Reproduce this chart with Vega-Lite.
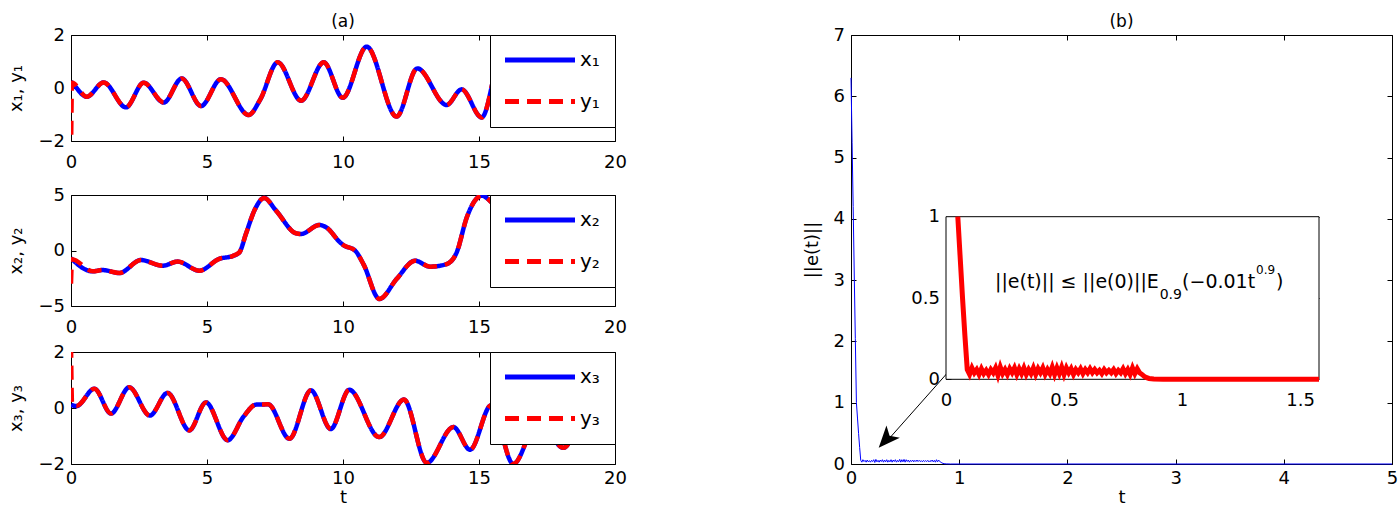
{
  "$schema": "https://vega.github.io/schema/vega-lite/v6.json",
  "background": "white",
  "padding": {"left": 7, "top": 12, "right": 0, "bottom": 0},
  "config": {
    "view": {"stroke": "black", "strokeWidth": 1},
    "axis": {"domain": false, "grid": false, "ticks": true, "tickColor": "black", "tickSize": -5, "tickWidth": 1, "format": "~g",
      "labelFont": "DejaVu Sans", "labelFontSize": 18, "labelColor": "black", "labelFlush": false, "labelOverlap": false,
      "titleFont": "DejaVu Sans", "titleFontSize": 18, "titleFontWeight": "normal", "titleColor": "black"},
    "axisX": {"labelPadding": 17},
    "axisY": {"labelPadding": 11.5, "titlePadding": 12},
    "title": {"font": "DejaVu Sans", "fontSize": 17, "fontWeight": "normal", "color": "black", "anchor": "middle", "offset": -5},
    "legend": {"orient": "top-right", "offset": 0, "fillColor": "white", "strokeColor": "black", "padding": 15,
      "symbolType": "M-1.4286,0H8.571", "symbolSize": 196, "symbolStrokeWidth": 5, "symbolOffset": 0,
      "labelFont": "DejaVu Sans", "labelFontSize": 20, "labelColor": "black", "labelOffset": 55, "rowPadding": 21.5}
  },
  "datasets": {
    "s1": [
      {"t": 0, "x": 0.24, "y": -2.6}, {"t": 0.04, "x": 0.2, "y": 0.2}, {"t": 0.58, "x": -0.33, "y": -0.33},
      {"t": 1.2, "x": 0.21, "y": 0.21}, {"t": 2.02, "x": -0.73, "y": -0.73}, {"t": 2.67, "x": 0.2, "y": 0.2},
      {"t": 3.41, "x": -0.55, "y": -0.55}, {"t": 4.07, "x": 0.36, "y": 0.36}, {"t": 4.78, "x": -0.68, "y": -0.68},
      {"t": 5.51, "x": 0.33, "y": 0.33}, {"t": 6.53, "x": -1.02, "y": -1.02}, {"t": 6.95, "x": -0.45, "y": -0.45},
      {"t": 7.6, "x": 0.97, "y": 0.97}, {"t": 8.46, "x": -0.48, "y": -0.48}, {"t": 9.29, "x": 0.97, "y": 0.97},
      {"t": 9.99, "x": -0.37, "y": -0.37}, {"t": 10.87, "x": 1.56, "y": 1.56}, {"t": 11.97, "x": -1.08, "y": -1.08},
      {"t": 12.73, "x": 0.74, "y": 0.74}, {"t": 13.81, "x": -0.64, "y": -0.64}, {"t": 14.36, "x": -0.05, "y": -0.05},
      {"t": 15.1, "x": -1.11, "y": -1.11}, {"t": 15.85, "x": 1.3, "y": 1.3}, {"t": 16.7, "x": -0.5, "y": -0.5},
      {"t": 17.5, "x": 1.2, "y": 1.2}, {"t": 18.3, "x": -0.9, "y": -0.9}, {"t": 19.2, "x": 0.8, "y": 0.8},
      {"t": 20, "x": 0.0, "y": 0.0}
    ],
    "s2": [
      {"t": 0, "x": -0.68, "y": -3.0}, {"t": 0.04, "x": -0.78, "y": -0.78}, {"t": 0.8, "x": -1.88, "y": -1.88},
      {"t": 1.16, "x": -1.76, "y": -1.76}, {"t": 1.78, "x": -2.03, "y": -2.03}, {"t": 2.57, "x": -0.86, "y": -0.86},
      {"t": 3.37, "x": -1.37, "y": -1.37}, {"t": 3.92, "x": -1.0, "y": -1.0}, {"t": 4.72, "x": -1.82, "y": -1.82},
      {"t": 5.45, "x": -0.75, "y": -0.75}, {"t": 5.94, "x": -0.5, "y": -0.5}, {"t": 6.19, "x": -0.17, "y": -0.17},
      {"t": 6.43, "x": 1.49, "y": 1.49}, {"t": 6.74, "x": 3.59, "y": 3.59}, {"t": 7.1, "x": 4.73, "y": 4.73},
      {"t": 7.54, "x": 3.59, "y": 3.59}, {"t": 8.27, "x": 1.55, "y": 1.55}, {"t": 8.46, "x": 1.49, "y": 1.49},
      {"t": 9.13, "x": 2.3, "y": 2.3}, {"t": 9.38, "x": 2.09, "y": 2.09}, {"t": 9.89, "x": 0.74, "y": 0.74},
      {"t": 10.01, "x": 0.49, "y": 0.49}, {"t": 10.44, "x": 0.0, "y": 0.0}, {"t": 10.75, "x": -1.22, "y": -1.22},
      {"t": 11.34, "x": -4.37, "y": -4.37}, {"t": 11.97, "x": -2.57, "y": -2.57}, {"t": 12.65, "x": -0.92, "y": -0.92},
      {"t": 13.2, "x": -1.46, "y": -1.46}, {"t": 13.81, "x": -1.22, "y": -1.22}, {"t": 14.18, "x": -0.17, "y": -0.17},
      {"t": 14.55, "x": 2.98, "y": 2.98}, {"t": 14.85, "x": 4.49, "y": 4.49}, {"t": 15.1, "x": 4.94, "y": 4.94},
      {"t": 15.47, "x": 4.33, "y": 4.33}, {"t": 16.2, "x": 2.2, "y": 2.2}, {"t": 17.0, "x": 3.3, "y": 3.3},
      {"t": 18.0, "x": 0.3, "y": 0.3}, {"t": 19.0, "x": 2.2, "y": 2.2}, {"t": 20, "x": 1.18, "y": 1.18}
    ],
    "s3": [
      {"t": 0, "x": 0.12, "y": 2.3}, {"t": 0.04, "x": 0.1, "y": 0.1}, {"t": 0.2, "x": 0.07, "y": 0.07},
      {"t": 0.86, "x": 0.69, "y": 0.69}, {"t": 1.47, "x": -0.2, "y": -0.2}, {"t": 2.14, "x": 0.74, "y": 0.74},
      {"t": 2.9, "x": -0.27, "y": -0.27}, {"t": 3.55, "x": 0.54, "y": 0.54}, {"t": 4.35, "x": -0.8, "y": -0.8},
      {"t": 4.96, "x": 0.2, "y": 0.2}, {"t": 5.76, "x": -1.15, "y": -1.15}, {"t": 6.35, "x": -0.3, "y": -0.3},
      {"t": 6.8, "x": 0.12, "y": 0.12}, {"t": 7.25, "x": 0.13, "y": 0.13}, {"t": 8.03, "x": -1.1, "y": -1.1},
      {"t": 8.82, "x": 0.63, "y": 0.63}, {"t": 9.55, "x": -0.75, "y": -0.75}, {"t": 10.23, "x": 0.65, "y": 0.65},
      {"t": 11.33, "x": -1.04, "y": -1.04}, {"t": 12.24, "x": 0.3, "y": 0.3}, {"t": 13.08, "x": -1.96, "y": -1.96},
      {"t": 14.06, "x": -0.68, "y": -0.68}, {"t": 14.67, "x": -1.49, "y": -1.49}, {"t": 15.45, "x": 0.1, "y": 0.1},
      {"t": 16.26, "x": -2.0, "y": -2.0}, {"t": 17.2, "x": -0.4, "y": -0.4}, {"t": 18.1, "x": -1.42, "y": -1.42},
      {"t": 19.1, "x": 0.2, "y": 0.2}, {"t": 20, "x": -0.68, "y": -0.68}
    ],
    "e": [
      {"t": 0, "e": 6.3}, {"t": 0.01, "e": 5.25}, {"t": 0.02, "e": 4.2}, {"t": 0.03, "e": 3.1}, {"t": 0.04, "e": 2.05},
      {"t": 0.05, "e": 1.0}, {"t": 0.06, "e": 0.75}, {"t": 0.07, "e": 0.5}, {"t": 0.08, "e": 0.27}, {"t": 0.09, "e": 0.06},
      {"t": 0.10, "e": 0.03}, {"t": 0.11, "e": 0.07}, {"t": 0.12, "e": 0.04}, {"t": 0.13, "e": 0.06}, {"t": 0.14, "e": 0.03},
      {"t": 0.15, "e": 0.065}, {"t": 0.16, "e": 0.035}, {"t": 0.17, "e": 0.055}, {"t": 0.18, "e": 0.03}, {"t": 0.19, "e": 0.06},
      {"t": 0.20, "e": 0.04}, {"t": 0.21, "e": 0.07}, {"t": 0.22, "e": 0.025}, {"t": 0.23, "e": 0.075}, {"t": 0.24, "e": 0.035},
      {"t": 0.25, "e": 0.06}, {"t": 0.26, "e": 0.03}, {"t": 0.27, "e": 0.065}, {"t": 0.28, "e": 0.04}, {"t": 0.29, "e": 0.07},
      {"t": 0.30, "e": 0.03}, {"t": 0.31, "e": 0.065}, {"t": 0.32, "e": 0.035}, {"t": 0.33, "e": 0.07}, {"t": 0.34, "e": 0.03},
      {"t": 0.35, "e": 0.06}, {"t": 0.36, "e": 0.035}, {"t": 0.37, "e": 0.07}, {"t": 0.38, "e": 0.03}, {"t": 0.39, "e": 0.065},
      {"t": 0.40, "e": 0.04}, {"t": 0.41, "e": 0.07}, {"t": 0.42, "e": 0.03}, {"t": 0.43, "e": 0.06}, {"t": 0.44, "e": 0.035},
      {"t": 0.45, "e": 0.075}, {"t": 0.46, "e": 0.03}, {"t": 0.47, "e": 0.07}, {"t": 0.48, "e": 0.035}, {"t": 0.49, "e": 0.075},
      {"t": 0.50, "e": 0.03}, {"t": 0.51, "e": 0.07}, {"t": 0.52, "e": 0.04}, {"t": 0.53, "e": 0.065}, {"t": 0.54, "e": 0.03},
      {"t": 0.55, "e": 0.06}, {"t": 0.56, "e": 0.04}, {"t": 0.57, "e": 0.065}, {"t": 0.58, "e": 0.035}, {"t": 0.59, "e": 0.06},
      {"t": 0.60, "e": 0.04}, {"t": 0.61, "e": 0.065}, {"t": 0.62, "e": 0.04}, {"t": 0.63, "e": 0.06}, {"t": 0.64, "e": 0.04},
      {"t": 0.65, "e": 0.055}, {"t": 0.66, "e": 0.035}, {"t": 0.67, "e": 0.06}, {"t": 0.68, "e": 0.04}, {"t": 0.69, "e": 0.055},
      {"t": 0.70, "e": 0.04}, {"t": 0.71, "e": 0.06}, {"t": 0.72, "e": 0.035}, {"t": 0.73, "e": 0.055}, {"t": 0.74, "e": 0.04},
      {"t": 0.75, "e": 0.065}, {"t": 0.76, "e": 0.035}, {"t": 0.77, "e": 0.06}, {"t": 0.78, "e": 0.03}, {"t": 0.79, "e": 0.07},
      {"t": 0.80, "e": 0.035}, {"t": 0.81, "e": 0.065}, {"t": 0.82, "e": 0.04}, {"t": 0.83, "e": 0.03}, {"t": 0.84, "e": 0.018},
      {"t": 0.85, "e": 0.01}, {"t": 0.86, "e": 0.005}, {"t": 0.88, "e": 0.002}, {"t": 0.92, "e": 0.0}, {"t": 1.58, "e": 0.0},
      {"t": 5, "e": 0.0}
    ]
  },
  "spacing": 175,
  "hconcat": [
    {
      "spacing": 5,
      "resolve": {"scale": {"color": "independent", "strokeDash": "independent"}},
      "vconcat": [
        {
          "spacing": 13,
          "resolve": {"scale": {"color": "independent", "strokeDash": "independent"}},
          "vconcat": [
            {
              "title": {"text": "(a)", "anchor": "middle"},
              "width": 544, "height": 106,
              "data": {"name": "s1"},
              "resolve": {"axis": {"x": "independent", "y": "independent"}},
              "layer": [
                {"mark": {"type": "line", "strokeWidth": 4.5, "clip": true, "interpolate": "monotone"},
                 "encoding": {
                   "x": {"field": "t", "type": "quantitative", "scale": {"domain": [0, 20], "nice": false}, "axis": {"values": [0, 5, 10, 15, 20], "title": null}},
                   "y": {"field": "x", "type": "quantitative", "scale": {"domain": [-2, 2], "nice": false}, "axis": {"values": [-2, 0, 2], "title": "x₁, y₁"}},
                   "color": {"datum": "x₁", "scale": {"domain": ["x₁", "y₁"], "range": ["#0000ff", "#ff0000"]}, "legend": {"title": null}},
                   "strokeDash": {"datum": "x₁", "scale": {"domain": ["x₁", "y₁"], "range": [[1, 0], [14, 8]]}, "legend": {"title": null}}}},
                {"mark": {"type": "line", "strokeWidth": 4.5, "clip": true, "interpolate": "monotone"},
                 "encoding": {
                   "x": {"field": "t", "type": "quantitative", "axis": {"orient": "top", "values": [0, 5, 10, 15, 20], "labels": false, "title": null}},
                   "y": {"field": "y", "type": "quantitative", "axis": {"orient": "right", "values": [-2, 0, 2], "labels": false, "title": null}},
                   "color": {"datum": "y₁"},
                   "strokeDash": {"datum": "y₁"}}}
              ]
            },
            {
              "width": 544, "height": 111,
              "data": {"name": "s2"},
              "resolve": {"axis": {"x": "independent", "y": "independent"}},
              "layer": [
                {"mark": {"type": "line", "strokeWidth": 4.5, "clip": true, "interpolate": "monotone"},
                 "encoding": {
                   "x": {"field": "t", "type": "quantitative", "scale": {"domain": [0, 20], "nice": false}, "axis": {"values": [0, 5, 10, 15, 20], "title": null}},
                   "y": {"field": "x", "type": "quantitative", "scale": {"domain": [-5, 5], "nice": false}, "axis": {"values": [-5, 0, 5], "title": "x₂, y₂"}},
                   "color": {"datum": "x₂", "scale": {"domain": ["x₂", "y₂"], "range": ["#0000ff", "#ff0000"]}, "legend": {"title": null}},
                   "strokeDash": {"datum": "x₂", "scale": {"domain": ["x₂", "y₂"], "range": [[1, 0], [14, 8]]}, "legend": {"title": null}}}},
                {"mark": {"type": "line", "strokeWidth": 4.5, "clip": true, "interpolate": "monotone"},
                 "encoding": {
                   "x": {"field": "t", "type": "quantitative", "axis": {"orient": "top", "values": [0, 5, 10, 15, 20], "labels": false, "title": null}},
                   "y": {"field": "y", "type": "quantitative", "axis": {"orient": "right", "values": [-5, 0, 5], "labels": false, "title": null}},
                   "color": {"datum": "y₂"},
                   "strokeDash": {"datum": "y₂"}}}
              ]
            }
          ]
        },
        {
          "width": 544, "height": 112,
          "data": {"name": "s3"},
          "resolve": {"axis": {"x": "independent", "y": "independent"}},
          "layer": [
            {"mark": {"type": "line", "strokeWidth": 4.5, "clip": true, "interpolate": "monotone"},
             "encoding": {
               "x": {"field": "t", "type": "quantitative", "scale": {"domain": [0, 20], "nice": false}, "axis": {"values": [0, 5, 10, 15, 20], "title": "t", "labelPadding": 10.3, "titlePadding": 1}},
               "y": {"field": "x", "type": "quantitative", "scale": {"domain": [-2, 2], "nice": false}, "axis": {"values": [-2, 0, 2], "title": "x₃, y₃"}},
               "color": {"datum": "x₃", "scale": {"domain": ["x₃", "y₃"], "range": ["#0000ff", "#ff0000"]}, "legend": {"title": null}},
               "strokeDash": {"datum": "x₃", "scale": {"domain": ["x₃", "y₃"], "range": [[1, 0], [14, 8]]}, "legend": {"title": null}}}},
            {"mark": {"type": "line", "strokeWidth": 4.5, "clip": true, "interpolate": "monotone"},
             "encoding": {
               "x": {"field": "t", "type": "quantitative", "axis": {"orient": "top", "values": [0, 5, 10, 15, 20], "labels": false, "title": null}},
               "y": {"field": "y", "type": "quantitative", "axis": {"orient": "right", "values": [-2, 0, 2], "labels": false, "title": null}},
               "color": {"datum": "y₃"},
               "strokeDash": {"datum": "y₃"}}}
          ]
        }
      ]
    },
    {
      "title": {"text": "(b)", "anchor": "middle", "frame": "group"},
      "width": 541, "height": 429,
      "data": {"name": "e"},
      "resolve": {"scale": {"x": "independent", "y": "independent"}, "axis": {"x": "independent", "y": "independent"}},
      "layer": [
        {
          "resolve": {"axis": {"x": "independent", "y": "independent"}},
          "layer": [
            {"mark": {"type": "line", "color": "#0000ff", "strokeWidth": 1},
             "encoding": {
               "x": {"field": "t", "type": "quantitative", "scale": {"domain": [0, 5], "nice": false}, "axis": {"orient": "bottom", "values": [0, 1, 2, 3, 4, 5], "title": "t", "labelPadding": 10.3, "titlePadding": 1}},
               "y": {"field": "e", "type": "quantitative", "scale": {"domain": [0, 7], "nice": false}, "axis": {"orient": "left", "values": [0, 1, 2, 3, 4, 5, 6, 7], "title": "||e(t)||"}}}},
            {"data": {"values": [{}]},
             "mark": {"type": "rule", "color": "black", "strokeWidth": 1},
             "encoding": {
               "x": {"datum": 0.913, "type": "quantitative", "axis": {"orient": "top", "values": [0, 1, 2, 3, 4, 5], "labels": false, "title": null}},
               "y": {"datum": 1.53, "type": "quantitative", "axis": {"orient": "right", "values": [0, 1, 2, 3, 4, 5, 6, 7], "labels": false, "title": null}},
               "x2": {"datum": 0.3}, "y2": {"datum": 0.31}}},
            {"data": {"values": [{}]},
             "mark": {"type": "point", "shape": "M0,0L0.75,1.8L0,1.35L-0.75,1.8Z", "filled": true, "color": "black", "opacity": 1, "size": 576, "angle": 222},
             "encoding": {"x": {"datum": 0.256, "type": "quantitative", "axis": null}, "y": {"datum": 0.266, "type": "quantitative", "axis": null}}}
          ]
        },
        {
          "resolve": {"axis": {"x": "independent", "y": "independent"}},
          "layer": [
            {"data": {"values": [{}]},
             "mark": {"type": "rect", "fill": "white", "stroke": "black", "strokeWidth": 1},
             "encoding": {
               "x": {"datum": 0, "type": "quantitative", "scale": {"domain": [0, 1.58], "range": [95, 468], "nice": false}, "axis": {"orient": "bottom", "offset": -84.7, "values": [0, 0.5, 1, 1.5], "title": null, "labelPadding": 17.6}},
               "y": {"datum": 0, "type": "quantitative", "scale": {"domain": [0, 1], "range": [344.3, 181.7], "nice": false}, "axis": {"orient": "left", "offset": -95, "values": [0, 0.5, 1], "title": null}},
               "x2": {"datum": 1.58}, "y2": {"datum": 1}}},
            {"transform": [{"filter": "datum.e <= 1 && datum.t <= 1.58"}],
             "mark": {"type": "line", "color": "#ff0000", "strokeWidth": 5},
             "encoding": {
               "x": {"field": "t", "type": "quantitative", "axis": {"orient": "top", "offset": -181.7, "values": [0, 0.5, 1, 1.5], "labels": false, "title": null}},
               "y": {"field": "e", "type": "quantitative", "axis": {"orient": "right", "offset": -73, "values": [0, 0.5, 1], "labels": false, "title": null}}}},
            {"data": {"values": [{}]},
             "mark": {"type": "text", "align": "left", "baseline": "alphabetic", "font": "DejaVu Sans", "fontSize": 19, "color": "black"},
             "encoding": {"x": {"datum": 0.2076, "type": "quantitative", "axis": null}, "y": {"datum": 0.561, "type": "quantitative", "axis": null}, "text": {"value": "||e(t)|| ≤ ||e(0)||E"}}},
            {"data": {"values": [{}]},
             "mark": {"type": "text", "align": "left", "baseline": "alphabetic", "font": "DejaVu Sans", "fontSize": 14, "color": "black"},
             "encoding": {"x": {"datum": 0.905, "type": "quantitative", "axis": null}, "y": {"datum": 0.492, "type": "quantitative", "axis": null}, "text": {"value": "0.9"}}},
            {"data": {"values": [{}]},
             "mark": {"type": "text", "align": "left", "baseline": "alphabetic", "font": "DejaVu Sans", "fontSize": 19, "color": "black"},
             "encoding": {"x": {"datum": 1.0, "type": "quantitative", "axis": null}, "y": {"datum": 0.561, "type": "quantitative", "axis": null}, "text": {"value": "(−0.01t"}}},
            {"data": {"values": [{}]},
             "mark": {"type": "text", "align": "left", "baseline": "alphabetic", "font": "DejaVu Sans", "fontSize": 12, "color": "black"},
             "encoding": {"x": {"datum": 1.3136, "type": "quantitative", "axis": null}, "y": {"datum": 0.648, "type": "quantitative", "axis": null}, "text": {"value": "0.9"}}},
            {"data": {"values": [{}]},
             "mark": {"type": "text", "align": "left", "baseline": "alphabetic", "font": "DejaVu Sans", "fontSize": 19, "color": "black"},
             "encoding": {"x": {"datum": 1.398, "type": "quantitative", "axis": null}, "y": {"datum": 0.561, "type": "quantitative", "axis": null}, "text": {"value": ")"}}}
          ]
        }
      ]
    }
  ]
}
